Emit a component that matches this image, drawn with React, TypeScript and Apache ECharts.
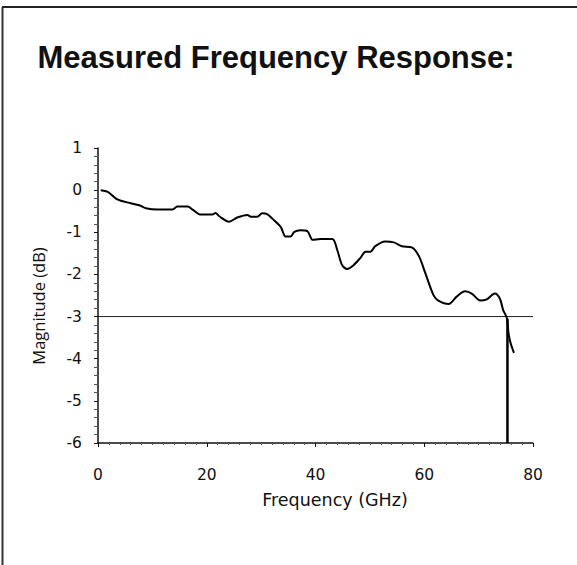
import React, { useEffect, useRef } from "react";
import * as echarts from "echarts";

const titleText = "Measured Frequency Response:";
const xAxisName = "Frequency (GHz)";
const yAxisName = "Magnitude (dB)";

const freqGHz = [
  0.5, 1.8, 3.3, 4.2, 6, 7.6, 8.8, 11, 13.7, 14.6, 16.5, 17.4, 18.9, 21, 21.6, 22.3,
  24.1, 25.6, 27.5, 28.1, 29.3, 30.2, 31.1, 32, 33.6, 34.5, 35.4, 36.1, 37.2, 38.5,
  39.5, 40.9, 43.1, 44, 44.9, 45.8, 47, 48.3, 49.2, 50.1, 51, 52.8, 54.4, 55.9, 57.7,
  59, 60.2, 61.7, 62.6, 64.5, 66, 67.5, 68.8, 70.3, 71.5, 73, 73.9, 74.5, 75.2, 75.5,
  75.9, 76.5,
];
const magDb = [
  0, -0.04, -0.2, -0.25, -0.31, -0.36, -0.43, -0.46, -0.46, -0.39, -0.39, -0.46, -0.58,
  -0.58, -0.54, -0.62, -0.75, -0.65, -0.59, -0.63, -0.63, -0.55, -0.57, -0.67, -0.87,
  -1.1, -1.1, -0.99, -0.95, -0.97, -1.18, -1.16, -1.16, -1.42, -1.78, -1.87, -1.78,
  -1.6, -1.46, -1.46, -1.33, -1.22, -1.24, -1.33, -1.36, -1.56, -1.97, -2.49, -2.62,
  -2.7, -2.52, -2.4, -2.46, -2.62, -2.59, -2.45, -2.57, -2.84, -3.04, -3.4, -3.64, -3.86,
];
const dropFreq = [75.3, 75.3];
const dropMag = [-3.05, -6];
const refLevelDb = -3;

export default function App() {
  const ref = useRef<HTMLDivElement>(null);
  useEffect(() => {
    if (!ref.current) return;
    const chart = echarts.init(ref.current, null, { renderer: "svg" });
    const tickFont = "DejaVu Sans";
    chart.setOption({
      animation: false,
      backgroundColor: "#ffffff",
      grid: { left: 98, right: 44, top: 148, bottom: 122 },
      graphic: [
        { type: "line", shape: { x1: 2, y1: 7, x2: 577, y2: 7 }, style: { stroke: "#222", lineWidth: 2 } },
        { type: "line", shape: { x1: 2.5, y1: 7, x2: 2.5, y2: 565 }, style: { stroke: "#333", lineWidth: 2 } },
        {
          type: "text",
          x: 276,
          y: 57,
          style: {
            text: titleText,
            font: "bold 31px 'Liberation Sans', Arial, sans-serif",
            fill: "#111",
            align: "center",
            verticalAlign: "middle",
          },
        },
        {
          type: "text",
          x: 335,
          y: 500,
          style: {
            text: xAxisName,
            font: "17.5px 'DejaVu Sans', sans-serif",
            fill: "#111",
            align: "center",
            verticalAlign: "middle",
          },
        },
        {
          type: "text",
          x: 38,
          y: 306,
          rotation: Math.PI / 2,
          style: {
            text: yAxisName,
            font: "16.5px 'Open Sans', sans-serif",
            fill: "#111",
            align: "center",
            verticalAlign: "middle",
          },
        },
      ],
      xAxis: {
        type: "value",
        min: 0,
        max: 80,
        interval: 20,
        axisLine: { show: true, onZero: false, lineStyle: { color: "#111", width: 1.5 } },
        axisTick: { show: true, inside: false, length: 4, lineStyle: { color: "#111" } },
        minorTick: { show: true, splitNumber: 10, length: 2, lineStyle: { color: "#555" } },
        splitLine: { show: false },
        axisLabel: { fontFamily: tickFont, fontSize: 15.5, color: "#111", margin: 24 },
      },
      yAxis: {
        type: "value",
        min: -6,
        max: 1,
        interval: 1,
        axisLine: { show: true, onZero: false, lineStyle: { color: "#111", width: 1.5 } },
        axisTick: { show: true, inside: false, length: 4, lineStyle: { color: "#111" } },
        minorTick: { show: true, splitNumber: 5, length: 4, lineStyle: { color: "#555" } },
        splitLine: { show: false },
        axisLabel: { fontFamily: tickFont, fontSize: 15.5, color: "#111", margin: 16 },
      },
      series: [
        {
          type: "line",
          data: [[0, refLevelDb], [80, refLevelDb]],
          symbol: "none",
          lineStyle: { color: "#222", width: 1 },
          silent: true,
        },
        {
          type: "line",
          data: freqGHz.map((f, i) => [f, magDb[i]]),
          symbol: "none",
          smooth: 0.3,
          lineStyle: { color: "#000", width: 2 },
        },
        {
          type: "line",
          data: dropFreq.map((f, i) => [f, dropMag[i]]),
          symbol: "none",
          lineStyle: { color: "#000", width: 2.5 },
        },
      ],
    });
    return () => chart.dispose();
  }, []);
  return <div ref={ref} style={{ width: 577, height: 565, position: "absolute", left: 0, top: 0 }} />;
}
